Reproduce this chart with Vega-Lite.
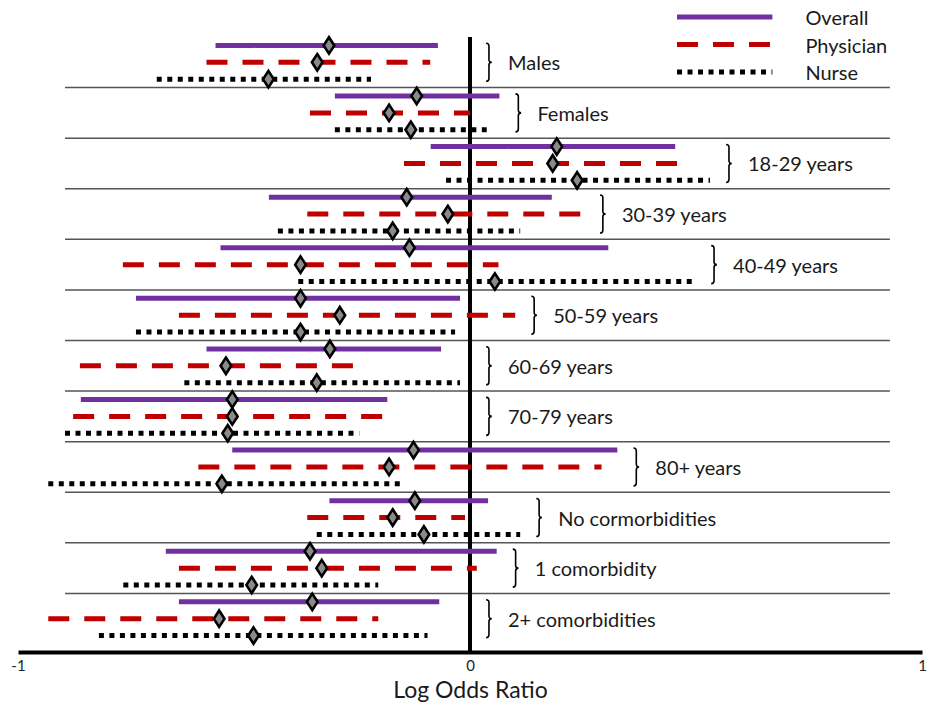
{
  "$schema": "https://vega.github.io/schema/vega-lite/v6.json",
  "width": 904,
  "height": 652,
  "padding": {"left": 18, "top": 0, "right": 9, "bottom": 56},
  "autosize": {"type": "none"},
  "background": "white",
  "config": {
    "view": {"stroke": null},
    "font": "Lato",
    "text": {"font": "Lato"}
  },
  "datasets": {
    "ci": [
      {"group": "Males", "series": "Overall", "est": -0.312, "lo": -0.563, "hi": -0.071},
      {"group": "Males", "series": "Physician", "est": -0.338, "lo": -0.583, "hi": -0.088},
      {"group": "Males", "series": "Nurse", "est": -0.446, "lo": -0.693, "hi": -0.219},
      {"group": "Females", "series": "Overall", "est": -0.118, "lo": -0.299, "hi": 0.065},
      {"group": "Females", "series": "Physician", "est": -0.179, "lo": -0.354, "hi": 0.0},
      {"group": "Females", "series": "Nurse", "est": -0.131, "lo": -0.299, "hi": 0.037},
      {"group": "18-29 years", "series": "Overall", "est": 0.192, "lo": -0.087, "hi": 0.454},
      {"group": "18-29 years", "series": "Physician", "est": 0.183, "lo": -0.146, "hi": 0.466},
      {"group": "18-29 years", "series": "Nurse", "est": 0.237, "lo": -0.053, "hi": 0.531},
      {"group": "30-39 years", "series": "Overall", "est": -0.14, "lo": -0.445, "hi": 0.181},
      {"group": "30-39 years", "series": "Physician", "est": -0.049, "lo": -0.36, "hi": 0.252},
      {"group": "30-39 years", "series": "Nurse", "est": -0.171, "lo": -0.425, "hi": 0.111},
      {"group": "40-49 years", "series": "Overall", "est": -0.134, "lo": -0.552, "hi": 0.306},
      {"group": "40-49 years", "series": "Physician", "est": -0.375, "lo": -0.768, "hi": 0.063},
      {"group": "40-49 years", "series": "Nurse", "est": 0.055, "lo": -0.38, "hi": 0.498},
      {"group": "50-59 years", "series": "Overall", "est": -0.375, "lo": -0.739, "hi": -0.022},
      {"group": "50-59 years", "series": "Physician", "est": -0.288, "lo": -0.644, "hi": 0.1},
      {"group": "50-59 years", "series": "Nurse", "est": -0.375, "lo": -0.739, "hi": -0.033},
      {"group": "60-69 years", "series": "Overall", "est": -0.31, "lo": -0.583, "hi": -0.064},
      {"group": "60-69 years", "series": "Physician", "est": -0.54, "lo": -0.863, "hi": -0.249},
      {"group": "60-69 years", "series": "Nurse", "est": -0.339, "lo": -0.632, "hi": -0.022},
      {"group": "70-79 years", "series": "Overall", "est": -0.526, "lo": -0.861, "hi": -0.183},
      {"group": "70-79 years", "series": "Physician", "est": -0.526, "lo": -0.878, "hi": -0.184},
      {"group": "70-79 years", "series": "Nurse", "est": -0.536, "lo": -0.896, "hi": -0.245},
      {"group": "80+ years", "series": "Overall", "est": -0.125, "lo": -0.526, "hi": 0.326},
      {"group": "80+ years", "series": "Physician", "est": -0.179, "lo": -0.601, "hi": 0.291},
      {"group": "80+ years", "series": "Nurse", "est": -0.549, "lo": -0.933, "hi": -0.148},
      {"group": "No cormorbidities", "series": "Overall", "est": -0.122, "lo": -0.311, "hi": 0.04},
      {"group": "No cormorbidities", "series": "Physician", "est": -0.171, "lo": -0.36, "hi": -0.011},
      {"group": "No cormorbidities", "series": "Nurse", "est": -0.102, "lo": -0.339, "hi": 0.111},
      {"group": "1 comorbidity", "series": "Overall", "est": -0.354, "lo": -0.673, "hi": 0.059},
      {"group": "1 comorbidity", "series": "Physician", "est": -0.328, "lo": -0.644, "hi": 0.015},
      {"group": "1 comorbidity", "series": "Nurse", "est": -0.483, "lo": -0.767, "hi": -0.203},
      {"group": "2+ comorbidities", "series": "Overall", "est": -0.349, "lo": -0.644, "hi": -0.068},
      {"group": "2+ comorbidities", "series": "Physician", "est": -0.555, "lo": -0.933, "hi": -0.203},
      {"group": "2+ comorbidities", "series": "Nurse", "est": -0.479, "lo": -0.821, "hi": -0.094}
    ],
    "legend": [
      {"series": "Overall"},
      {"series": "Physician"},
      {"series": "Nurse"}
    ]
  },
  "layer": [
    {
      "data": {"name": "ci"},
      "encoding": {
        "x": {
          "type": "quantitative",
          "scale": {"domain": [-1, 1], "nice": false, "zero": false},
          "axis": {
            "values": [-1, 0, 1],
            "labelExpr": "toString(datum.value)",
            "labelOverlap": false,
            "labelBound": false,
            "labelFlush": false,
            "title": "Log Odds Ratio",
            "titleFont": "Lato",
            "titleFontSize": 23,
            "titleFontWeight": "normal",
            "titleColor": "#1a1a1a",
            "titlePadding": 6,
            "labelFont": "Lato",
            "labelFontSize": 15,
            "labelColor": "#222",
            "labelPadding": 6,
            "ticks": false,
            "grid": false,
            "domainColor": "black",
            "domainWidth": 4
          }
        }
      },
      "layer": [
        {
          "transform": [{"filter": "datum.series == 'Overall' && datum.group != 'Males'"}],
          "mark": {"type": "rule", "stroke": "#555", "strokeWidth": 1.5},
          "encoding": {
            "x": {"datum": -0.896},
            "x2": {"datum": 0.929},
            "y": {
              "field": "group", "type": "nominal", "bandPosition": 0,
              "sort": ["Males", "Females", "18-29 years", "30-39 years", "40-49 years", "50-59 years", "60-69 years", "70-79 years", "80+ years", "No cormorbidities", "1 comorbidity", "2+ comorbidities"],
              "scale": {"type": "band", "domain": ["Males", "Females", "18-29 years", "30-39 years", "40-49 years", "50-59 years", "60-69 years", "70-79 years", "80+ years", "No cormorbidities", "1 comorbidity", "2+ comorbidities"], "range": [37, 644], "paddingInner": 0, "paddingOuter": 0},
              "axis": null
            }
          }
        },
        {
          "transform": [{"filter": "datum.series == 'Overall' && datum.group == 'Males'"}],
          "mark": {"type": "rule", "stroke": "black", "strokeWidth": 4},
          "encoding": {
            "x": {"datum": 0},
            "y": {"field": "group", "type": "nominal", "bandPosition": 0, "sort": ["Males", "Females", "18-29 years", "30-39 years", "40-49 years", "50-59 years", "60-69 years", "70-79 years", "80+ years", "No cormorbidities", "1 comorbidity", "2+ comorbidities"]},
            "y2": {"value": "height"}
          }
        },
        {
          "mark": {"type": "rule", "strokeWidth": 5, "strokeCap": "butt"},
          "encoding": {
            "x": {"field": "lo", "type": "quantitative"},
            "x2": {"field": "hi"},
            "y": {"field": "group", "type": "nominal", "sort": ["Males", "Females", "18-29 years", "30-39 years", "40-49 years", "50-59 years", "60-69 years", "70-79 years", "80+ years", "No cormorbidities", "1 comorbidity", "2+ comorbidities"]},
            "yOffset": {"field": "series", "type": "nominal", "sort": ["Overall", "Physician", "Nurse"], "scale": {"paddingInner": 0, "paddingOuter": 0}},
            "color": {"field": "series", "type": "nominal", "scale": {"domain": ["Overall", "Physician", "Nurse"], "range": ["#7030A0", "#C00000", "#000000"]}, "legend": null},
            "strokeDash": {"field": "series", "type": "nominal", "scale": {"domain": ["Overall", "Physician", "Nurse"], "range": [[1, 0], [21, 15], [5, 5.5]]}, "legend": null}
          }
        },
        {
          "mark": {"type": "point", "shape": "M0,-1L0.65,0L0,1L-0.65,0Z", "size": 270, "filled": true, "fill": "#8a8a8a", "stroke": "black", "strokeWidth": 2.6, "opacity": 1},
          "encoding": {
            "x": {"field": "est", "type": "quantitative"},
            "y": {"field": "group", "type": "nominal", "sort": ["Males", "Females", "18-29 years", "30-39 years", "40-49 years", "50-59 years", "60-69 years", "70-79 years", "80+ years", "No cormorbidities", "1 comorbidity", "2+ comorbidities"]},
            "yOffset": {"field": "series", "type": "nominal", "sort": ["Overall", "Physician", "Nurse"]}
          }
        },
        {
          "transform": [
            {"joinaggregate": [{"op": "max", "field": "hi", "as": "maxHi"}], "groupby": ["group"]},
            {"filter": "datum.series == 'Physician'"},
            {"calculate": "max(datum.maxHi, 0)", "as": "anchor"}
          ],
          "layer": [
            {
              "mark": {"type": "point", "shape": "M-0.1,-1Q0.05,-1 0.05,-0.85L0.05,-0.15Q0.05,0 0.2,0Q0.05,0 0.05,0.15L0.05,0.85Q0.05,1 -0.1,1", "size": 1444, "filled": false, "stroke": "black", "strokeWidth": 1.6, "opacity": 1, "xOffset": 18},
              "encoding": {
                "x": {"field": "anchor", "type": "quantitative"},
                "y": {"field": "group", "type": "nominal", "sort": ["Males", "Females", "18-29 years", "30-39 years", "40-49 years", "50-59 years", "60-69 years", "70-79 years", "80+ years", "No cormorbidities", "1 comorbidity", "2+ comorbidities"]}
              }
            },
            {
              "mark": {"type": "text", "align": "left", "baseline": "middle", "dx": 38, "dy": 2, "fontSize": 20, "font": "Lato", "color": "#1a1a1a"},
              "encoding": {
                "x": {"field": "anchor", "type": "quantitative"},
                "y": {"field": "group", "type": "nominal", "sort": ["Males", "Females", "18-29 years", "30-39 years", "40-49 years", "50-59 years", "60-69 years", "70-79 years", "80+ years", "No cormorbidities", "1 comorbidity", "2+ comorbidities"]},
                "text": {"field": "group"}
              }
            }
          ]
        }
      ]
    },
    {
      "data": {"name": "legend"},
      "encoding": {
        "y": {"field": "series", "type": "nominal", "scale": {"type": "point", "domain": ["Overall", "Physician", "Nurse"], "range": [17, 72], "padding": 0}, "axis": null}
      },
      "layer": [
        {
          "mark": {"type": "rule", "strokeWidth": 5, "strokeCap": "butt"},
          "encoding": {
            "x": {"datum": 0.458},
            "x2": {"datum": 0.669},
            "color": {"field": "series", "type": "nominal", "legend": null},
            "strokeDash": {"field": "series", "type": "nominal", "legend": null}
          }
        },
        {
          "mark": {"type": "text", "align": "left", "baseline": "middle", "dy": 2, "fontSize": 20, "font": "Lato", "color": "#1a1a1a"},
          "encoding": {
            "x": {"datum": 0.742},
            "text": {"field": "series"}
          }
        }
      ]
    }
  ],
  "resolve": {"scale": {"y": "independent"}}
}
